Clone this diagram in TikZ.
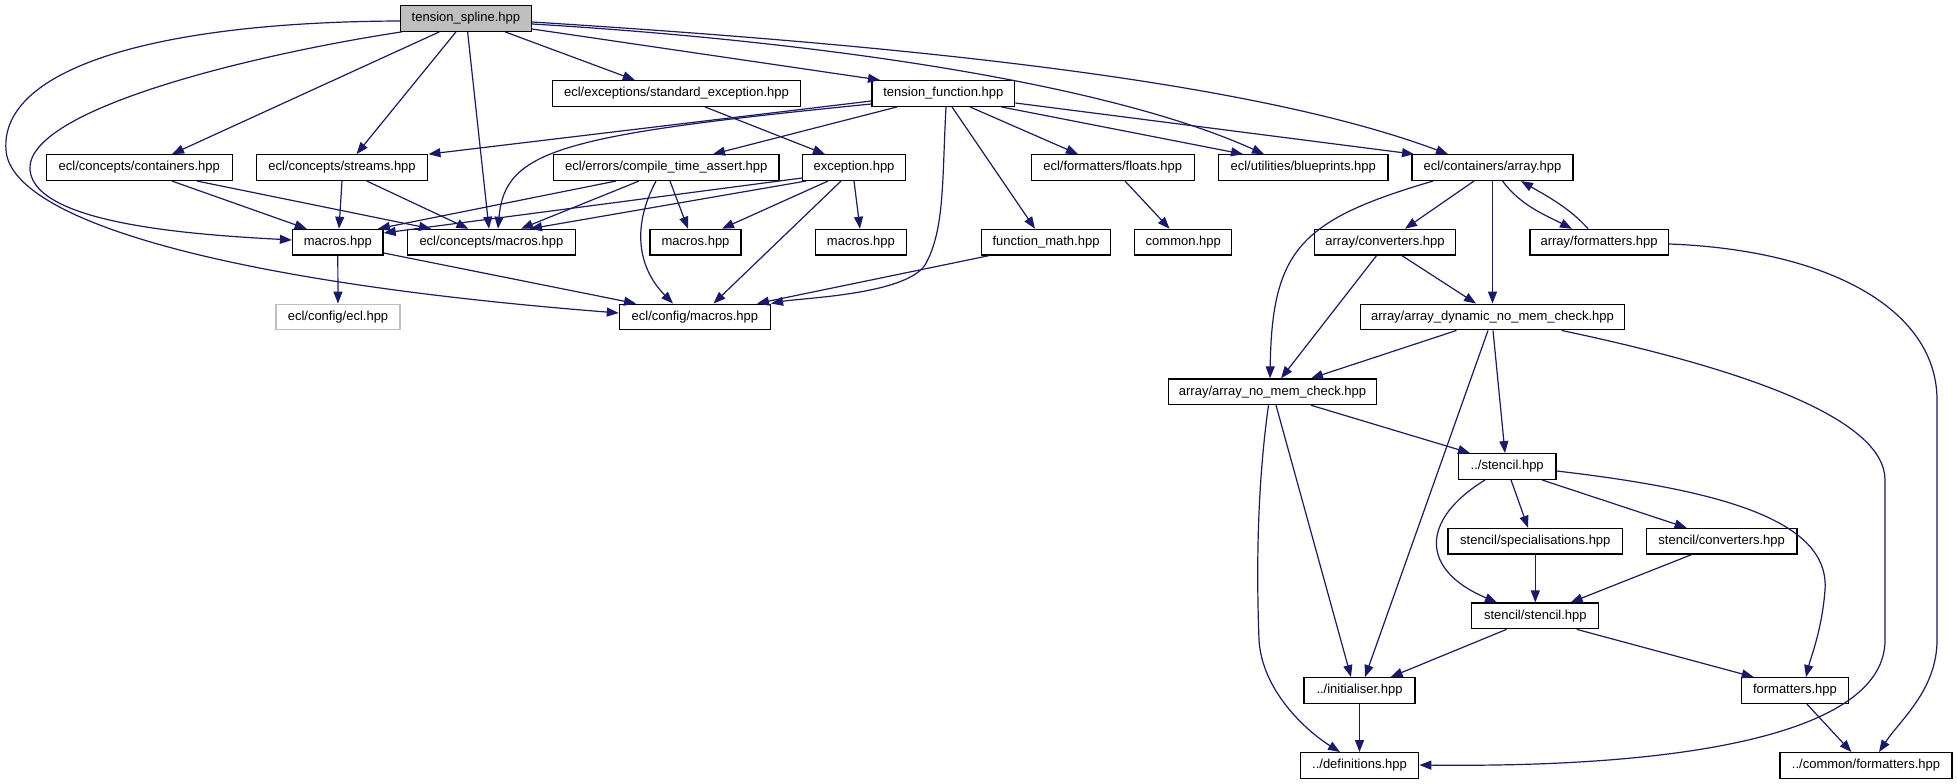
\documentclass[tikz,border=0pt]{standalone}
\usepackage{fontspec}
\setmainfont{Liberation Sans}
\usetikzlibrary{arrows.meta}
\definecolor{edgeblue}{HTML}{191970}
\definecolor{boxgray}{HTML}{BFBFBF}
\tikzset{
  filebox/.style={draw=black, line width=1.3pt, minimum height=25.6pt, inner sep=0pt, font=\fontsize{13}{15}\selectfont, anchor=center},
  dep/.style={draw=edgeblue, line width=1.2pt, -{Triangle[length=12pt,width=9pt]}, fill=none},
}
\begin{document}
\begin{tikzpicture}[x=1pt,y=-1pt]
\path[fill=white] (0,0) rectangle (1957,784);
\useasboundingbox (0,0) rectangle (1957,784);
% nodes
\node[filebox, fill=boxgray, minimum width=131] (ts) at (465.9,18.4) {tension\_spline.hpp};
\node[filebox, minimum width=247.7] (se) at (676.5,93.5) {ecl/exceptions/standard\_exception.hpp};
\node[filebox, minimum width=142.8] (tf) at (943.3,93.5) {tension\_function.hpp};
\node[filebox, minimum width=185.7] (cont) at (139.3,167.6) {ecl/concepts/containers.hpp};
\node[filebox, minimum width=171.6] (str) at (342,167.6) {ecl/concepts/streams.hpp};
\node[filebox, minimum width=225.4] (cta) at (666.3,167.6) {ecl/errors/compile\_time\_assert.hpp};
\node[filebox, minimum width=102.6] (exc) at (854,167.6) {exception.hpp};
\node[filebox, minimum width=163] (flt) at (1112.7,167.6) {ecl/formatters/floats.hpp};
\node[filebox, minimum width=169.3] (bp) at (1303.2,167.6) {ecl/utilities/blueprints.hpp};
\node[filebox, minimum width=161] (arr) at (1492.5,167.6) {ecl/containers/array.hpp};
\node[filebox, minimum width=90.5] (m1) at (337.8,242.2) {macros.hpp};
\node[filebox, minimum width=167.8] (cm) at (491.4,242.2) {ecl/concepts/macros.hpp};
\node[filebox, minimum width=91] (m2) at (695.5,242.2) {macros.hpp};
\node[filebox, minimum width=90.6] (m3) at (860.9,242.2) {macros.hpp};
\node[filebox, minimum width=129.5] (fm) at (1046,242.2) {function\_math.hpp};
\node[filebox, minimum width=97] (com) at (1183.3,242.2) {common.hpp};
\node[filebox, minimum width=141.5] (aconv) at (1385,242.2) {array/converters.hpp};
\node[filebox, minimum width=138.4] (afmt) at (1599.1,242.2) {array/formatters.hpp};
\node[filebox, draw=boxgray, minimum width=124] (ecl) at (338,317) {ecl/config/ecl.hpp};
\node[filebox, minimum width=151] (cfg) at (694.9,317) {ecl/config/macros.hpp};
\node[filebox, minimum width=263.6] (adyn) at (1492.5,317) {array/array\_dynamic\_no\_mem\_check.hpp};
\node[filebox, minimum width=208.2] (anm) at (1272.5,391.8) {array/array\_no\_mem\_check.hpp};
\node[filebox, minimum width=97.7] (st) at (1507.2,466.5) {../stencil.hpp};
\node[filebox, minimum width=174.5] (spec) at (1535.3,541.2) {stencil/specialisations.hpp};
\node[filebox, minimum width=150.7] (sconv) at (1721.7,541.2) {stencil/converters.hpp};
\node[filebox, minimum width=127] (sst) at (1535.3,615.9) {stencil/stencil.hpp};
\node[filebox, minimum width=111] (init) at (1359.5,690.5) {../initialiser.hpp};
\node[filebox, minimum width=106.8] (fmt) at (1794.9,690.5) {formatters.hpp};
\node[filebox, minimum width=118.4] (defs) at (1359.5,765.5) {../definitions.hpp};
\node[filebox, minimum width=172] (cfmt) at (1866,765.5) {../common/formatters.hpp};
% edges from tension_spline
\draw[dep] (ts.west |- 0,21) .. controls (150,22) and (0,70) .. (6,150) .. controls (10,215) and (200,280) .. (cfg.west |- 0,313);
\draw[dep] (ts.south -| 402,0) .. controls (250,55) and (25,110) .. (30,170) .. controls (35,225) and (200,235) .. (m1.west |- 0,240);
\draw[dep] (ts.south -| 439.4,0) -- (cont.north -| 172,0);
\draw[dep] (ts.south -| 456,0) -- (str.north -| 356.5,0);
\draw[dep] (ts.south -| 467.6,0) -- (cm.north -| 489,0);
\draw[dep] (ts.south -| 505,0) -- (se.north -| 634.8,0);
\draw[dep] (ts.east |- 0,29) -- (tf.north -| 880,0);
\draw[dep] (ts.east |- 0,24) .. controls (800,40) and (1100,80) .. (bp.north -| 1264,0);
\draw[dep] (ts.east |- 0,22) .. controls (900,45) and (1250,80) .. (arr.north -| 1448,0);
% edges from tension_function
\draw[dep] (tf.south -| 1001.5,0) -- (bp.north -| 1243,0);
\draw[dep] (tf.east |- 0,103) -- (arr.north -| 1414,0);
\draw[dep] (tf.south -| 970,0) -- (flt.north -| 1078,0);
\draw[dep] (tf.south -| 952,0) -- (fm.north -| 1035,0);
\draw[dep] (tf.south -| 946,0) .. controls (942,180) and (945,230) .. (925,265) .. controls (905,295) and (800,298) .. (cfg.north east);
\draw[dep] (tf.west |- 0,101) -- (str.north east);
\draw[dep] (tf.west |- 0,104) .. controls (560,135) and (505,150) .. (cm.north -| 498,0);
\draw[dep] (tf.south -| 897,0) -- (cta.north -| 713,0);
% standard exception
\draw[dep] (se.south -| 705,0) -- (exc.north -| 825,0);
% compile_time_assert
\draw[dep] (cta.south -| 616,0) -- (m1.north -| 378,0);
\draw[dep] (cta.south -| 639,0) -- (cm.north -| 521,0);
\draw[dep] (cta.south -| 670,0) -- (m2.north -| 688,0);
\draw[dep] (cta.south -| 656,0) .. controls (630,230) and (640,270) .. (cfg.north -| 673,0);
% exception
\draw[dep] (exc.west |- 0,178) -- (m1.east |- 0,233);
\draw[dep] (exc.south -| 806,0) -- (cm.north -| 530,0);
\draw[dep] (exc.south -| 828,0) -- (m2.north -| 722,0);
\draw[dep] (exc.south -| 854,0) -- (m3.north -| 860,0);
\draw[dep] (exc.south -| 841,0) -- (cfg.north -| 713.5,0);
% others row 2/3
\draw[dep] (fm.south -| 989,0) -- (cfg.north -| 757,0);
\draw[dep] (flt.south -| 1125,0) -- (com.north -| 1169.6,0);
\draw[dep] (m1.south) -- (ecl.north);
\draw[dep] (m1.east |- 0,253) -- (cfg.north -| 636,0);
\draw[dep] (cont.south -| 172,0) -- (m1.north -| 306.7,0);
\draw[dep] (cont.south -| 197,0) -- (cm.north -| 431,0);
\draw[dep] (str.south -| 342,0) -- (m1.north -| 339,0);
\draw[dep] (str.south -| 366.8,0) -- (cm.north -| 468.4,0);
% array
\draw[dep] (arr.south -| 1433,0) .. controls (1300,220) and (1272,250) .. (anm.north -| 1270,0);
\draw[dep] (arr.south -| 1474,0) -- (aconv.north -| 1405,0);
\draw[dep] (arr.south) -- (adyn.north);
\draw[dep] (arr.south -| 1502.6,0) .. controls (1520,205) and (1545,215) .. (afmt.north -| 1572,0);
\draw[dep] (afmt.north -| 1588,0) .. controls (1570,208) and (1545,195) .. (arr.south -| 1521,0);
\draw[dep] (afmt.east |- 0,244) .. controls (1830,250) and (1937,310) .. (1937,400) -- (1937,640) .. controls (1937,690) and (1900,720) .. (cfmt.north -| 1879,0);
\draw[dep] (aconv.south -| 1402,0) -- (adyn.north -| 1476,0);
\draw[dep] (aconv.south -| 1376.5,0) -- (anm.north -| 1281,0);
% array dynamic
\draw[dep] (adyn.south -| 1456.5,0) -- (anm.north -| 1311,0);
\draw[dep] (adyn.south -| 1488,0) -- (init.north -| 1365,0);
\draw[dep] (adyn.south -| 1493,0) -- (st.north -| 1505,0);
\draw[dep] (adyn.south -| 1561.5,0) .. controls (1750,370) and (1885,420) .. (1885,480) -- (1885,640) .. controls (1885,730) and (1700,768) .. (defs.east |- 0,765);
% array no mem check
\draw[dep] (anm.south -| 1311,0) -- (st.north -| 1470,0);
\draw[dep] (anm.south -| 1276,0) -- (init.north -| 1351,0);
\draw[dep] (anm.south -| 1268.5,0) .. controls (1258,480) and (1256,560) .. (1259,640) .. controls (1262,690) and (1305,730) .. (defs.north -| 1340,0);
% stencil
\draw[dep] (st.south -| 1511,0) -- (spec.north -| 1528,0);
\draw[dep] (st.south -| 1542,0) -- (sconv.north -| 1686.6,0);
\draw[dep] (st.south -| 1485,0) .. controls (1420,520) and (1420,570) .. (sst.north -| 1497,0);
\draw[dep] (st.east |- 0,471) .. controls (1720,490) and (1830,520) .. (1825,590) .. controls (1822,630) and (1810,660) .. (fmt.north -| 1806,0);
\draw[dep] (spec.south) -- (sst.north);
\draw[dep] (sconv.south -| 1691.5,0) -- (sst.north -| 1570.6,0);
\draw[dep] (sst.south -| 1506.6,0) -- (init.north -| 1390.6,0);
\draw[dep] (sst.south -| 1576.7,0) -- (fmt.north -| 1753.7,0);
\draw[dep] (init.south) -- (defs.north);
\draw[dep] (fmt.south -| 1806.8,0) -- (cfmt.north -| 1851.4,0);
\end{tikzpicture}
\end{document}
